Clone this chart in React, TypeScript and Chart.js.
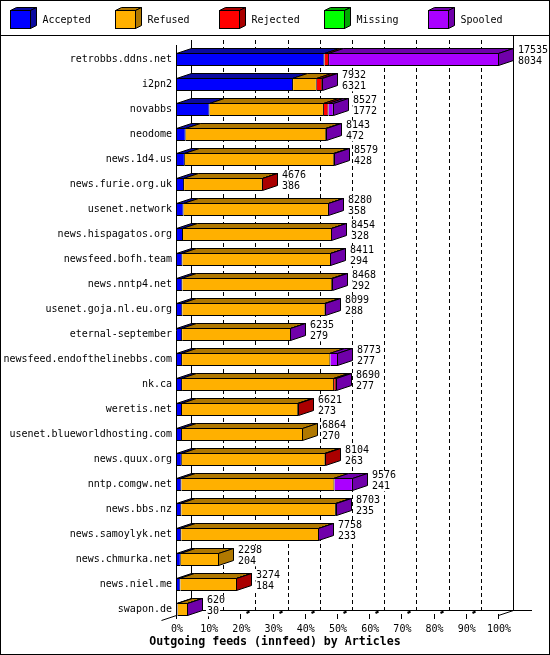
import React, { useEffect, useRef } from 'react';
import { Chart, registerables } from 'chart.js';

Chart.register(...registerables);

const HOSTS = [
  'retrobbs.ddns.net', 'i2pn2', 'novabbs', 'neodome', 'news.1d4.us', 'news.furie.org.uk',
  'usenet.network', 'news.hispagatos.org', 'newsfeed.bofh.team', 'news.nntp4.net',
  'usenet.goja.nl.eu.org', 'eternal-september', 'newsfeed.endofthelinebbs.com', 'nk.ca',
  'weretis.net', 'usenet.blueworldhosting.com', 'news.quux.org', 'nntp.comgw.net',
  'news.bbs.nz', 'news.samoylyk.net', 'news.chmurka.net', 'news.niel.me', 'swapon.de',
];
const ACCEPTED = [8034, 6321, 1772, 472, 428, 386, 358, 328, 294, 292, 288, 279, 277, 277, 273, 270, 263, 241, 235, 233, 204, 184, 30];
const REFUSED = [0, 1290, 6230, 7656, 8136, 4280, 7907, 8111, 8102, 8161, 7796, 5941, 8076, 8278, 6328, 6594, 7821, 8335, 8418, 7510, 2094, 3080, 575];
const REJECTED = [250, 300, 250, 0, 0, 10, 0, 0, 0, 0, 0, 0, 0, 120, 20, 0, 20, 0, 0, 0, 0, 10, 0];
const MISSING = [0, 0, 0, 0, 0, 0, 0, 0, 0, 0, 0, 0, 0, 0, 0, 0, 0, 0, 0, 0, 0, 0, 0];
const SPOOLED = [9251, 21, 275, 15, 15, 0, 15, 15, 15, 15, 15, 15, 420, 15, 0, 0, 0, 1000, 50, 15, 0, 0, 15];

const SERIES_NAMES = ['Accepted', 'Refused', 'Rejected', 'Missing', 'Spooled'];
const FRONT_COLORS = ['#0000ff', '#ffb000', '#ff0000', '#00ff00', '#aa00ff'];
const SIDE_COLORS = ['#0a0aa0', '#b07800', '#aa0000', '#00a800', '#7000aa'];
const X_TICK_STEP = 10;
const X_TITLE = 'Outgoing feeds (innfeed) by Articles';

const SERIES = [ACCEPTED, REFUSED, REJECTED, MISSING, SPOOLED];
const TOTALS = HOSTS.map((_, i) => SERIES.reduce((s, arr) => s + arr[i], 0));
const MAX_TOTAL = Math.max(...TOTALS);

const MONO = '"DejaVu Sans Mono", "Liberation Mono", monospace';
const DX = 15;
const DY = 5;

const threeD = {
  id: 'threeD',
  beforeDraw(chart: any) {
    const { ctx, width, height } = chart;
    ctx.save();
    ctx.fillStyle = '#ffffff';
    ctx.fillRect(0, 0, width, height);
    ctx.restore();
  },
  beforeDatasetsDraw(chart: any) {
    const { ctx, chartArea } = chart;
    const xs = chart.scales.x;
    const L = chartArea.left, R = chartArea.right, T = chartArea.top;
    const F = chartArea.bottom - 7;
    ctx.save();
    ctx.strokeStyle = '#000';
    ctx.lineWidth = 1;
    const line = (x1: number, y1: number, x2: number, y2: number) => {
      ctx.beginPath(); ctx.moveTo(x1, y1); ctx.lineTo(x2, y2); ctx.stroke();
    };
    // back wall left / right, back floor
    line(L + DX - 0.5, T - 7, L + DX - 0.5, F - 4.5);
    line(R + DX - 0.5, 35.5, R + DX - 0.5, F - 4.5);
    line(L + DX - 0.5, F - 4.5, R + DX + 18, F - 4.5);
    // back dashed gridlines
    ctx.setLineDash([4, 3]);
    for (let v = X_TICK_STEP; v < 100; v += X_TICK_STEP) {
      const bx = Math.round(xs.getPixelForValue(v)) + DX - 0.5;
      line(bx, T - 7, bx, F - 5);
    }
    ctx.setLineDash([]);
    // floor diagonals
    line(L - 0.5, F + 0.5, L - DX - 0.5, F + DY + 0.5);
    line(R - 0.5, F + 0.5, R + DX - 0.5, F - DY + 0.5);
    // ticks
    for (let v = 0; v <= 100; v += X_TICK_STEP) {
      const fx = Math.round(xs.getPixelForValue(v)) - 0.5;
      line(fx, F - 1, fx, F + 4);
      if (v < 100 && v > 0) {
        ctx.lineWidth = 2;
        line(fx + 6, F - 2, fx + 9, F - 3.5);
        ctx.lineWidth = 1;
      }
    }
    ctx.restore();
  },
  afterDatasetsDraw(chart: any) {
    const { ctx, chartArea } = chart;
    const datasets = chart.data.datasets;
    const metas = datasets.map((_: any, d: number) => chart.getDatasetMeta(d));
    ctx.save();
    ctx.lineWidth = 1;
    ctx.strokeStyle = '#000';
    for (let i = 0; i < HOSTS.length; i++) {
      let last = -1;
      for (let d = 0; d < datasets.length; d++) if (datasets[d].data[i] > 0) last = d;
      for (let d = 0; d < datasets.length; d++) {
        if (!(datasets[d].data[i] > 0)) continue;
        const p = metas[d].data[i].getProps(['x', 'y', 'base', 'height'], true);
        const x0 = Math.round(Math.min(p.base, p.x)) - 0.5;
        const x1 = Math.round(Math.max(p.base, p.x)) - 0.5;
        const top = Math.round(p.y - p.height / 2) + 0.5;
        const bot = Math.round(p.y + p.height / 2) - 0.5;
        ctx.fillStyle = SIDE_COLORS[d];
        ctx.beginPath();
        ctx.moveTo(x0, top); ctx.lineTo(x1, top); ctx.lineTo(x1 + DX, top - DY); ctx.lineTo(x0 + DX, top - DY);
        ctx.closePath(); ctx.fill(); ctx.stroke();
        if (d === last) {
          ctx.beginPath();
          ctx.moveTo(x1, top); ctx.lineTo(x1 + DX, top - DY); ctx.lineTo(x1 + DX, bot - DY); ctx.lineTo(x1, bot);
          ctx.closePath(); ctx.fill(); ctx.stroke();
        }
      }
    }
    // left front axis
    ctx.beginPath();
    ctx.moveTo(chartArea.left - 0.5, chartArea.top - 2);
    ctx.lineTo(chartArea.left - 0.5, chartArea.bottom - 6.5);
    ctx.stroke();
    // value labels
    ctx.font = `10px ${MONO}`;
    ctx.textBaseline = 'middle';
    ctx.textAlign = 'left';
    const lastMeta = metas[metas.length - 1];
    for (let i = 0; i < HOSTS.length; i++) {
      const p = lastMeta.data[i].getProps(['x', 'y', 'height'], true);
      const lx = Math.round(p.x) + DX + 4;
      const top = Math.round(p.y - p.height / 2);
      const lines = [String(TOTALS[i]), String(ACCEPTED[i])];
      const ys = [top - 2.5, top + 8.3];
      lines.forEach((t, k) => {
        const w = ctx.measureText(t).width;
        ctx.fillStyle = '#fff';
        ctx.fillRect(lx - 1, ys[k] - 5, w + 2, 10);
        ctx.fillStyle = '#000';
        ctx.fillText(t, lx, ys[k]);
      });
    }
    ctx.restore();
  },
  afterDraw(chart: any) {
    const { ctx, width, height } = chart;
    ctx.save();
    ctx.strokeStyle = '#000';
    ctx.lineWidth = 1;
    // legend
    const datasets = chart.data.datasets;
    ctx.font = `10px ${MONO}`;
    ctx.textBaseline = 'middle';
    ctx.textAlign = 'left';
    datasets.forEach((ds: any, d: number) => {
      const x = Math.round(10 + d * 104.5) + 0.5;
      const y = 10.5;
      const w = 20, h = 18, dx = 6, dy = 3;
      ctx.fillStyle = SIDE_COLORS[d];
      ctx.beginPath();
      ctx.moveTo(x, y); ctx.lineTo(x + w, y); ctx.lineTo(x + w + dx, y - dy); ctx.lineTo(x + dx, y - dy);
      ctx.closePath(); ctx.fill(); ctx.stroke();
      ctx.beginPath();
      ctx.moveTo(x + w, y); ctx.lineTo(x + w + dx, y - dy); ctx.lineTo(x + w + dx, y + h - dy); ctx.lineTo(x + w, y + h);
      ctx.closePath(); ctx.fill(); ctx.stroke();
      ctx.fillStyle = FRONT_COLORS[d];
      ctx.fillRect(x, y, w, h);
      ctx.strokeRect(x, y, w, h);
      ctx.fillStyle = '#000';
      ctx.fillText(ds.label, x + 32, 20);
    });
    // legend separator
    ctx.beginPath(); ctx.moveTo(0, 35.5); ctx.lineTo(width, 35.5); ctx.stroke();
    // title
    ctx.font = `bold 11.6px ${MONO}`;
    ctx.textAlign = 'center';
    ctx.fillStyle = '#000';
    ctx.fillText(X_TITLE, width / 2, 642);
    // frame
    ctx.strokeRect(0.5, 0.5, width - 1, height - 1);
    ctx.restore();
  },
};

export default function App() {
  const ref = useRef<HTMLCanvasElement>(null);
  useEffect(() => {
    document.body.style.margin = '0';
    const chart = new Chart(ref.current as HTMLCanvasElement, {
      type: 'bar',
      data: {
        labels: HOSTS,
        datasets: SERIES.map((arr, d) => ({
          label: SERIES_NAMES[d],
          data: arr.map((v) => (v / MAX_TOTAL) * 100),
          backgroundColor: FRONT_COLORS[d],
          borderColor: '#000',
          borderWidth: 1,
          borderSkipped: 'start',
          inflateAmount: 0,
          barThickness: 13,
        })),
      },
      options: {
        indexAxis: 'y',
        responsive: false,
        animation: false,
        devicePixelRatio: 1,
        layout: { padding: { top: 47, right: 51, bottom: 0, left: 0 } },
        plugins: { legend: { display: false }, tooltip: { enabled: false } },
        scales: {
          x: {
            type: 'linear',
            stacked: true,
            min: 0,
            max: 100,
            grid: { display: false, drawTicks: false },
            border: { display: false },
            ticks: {
              stepSize: X_TICK_STEP,
              autoSkip: false,
              maxRotation: 0,
              padding: 1,
              color: '#000',
              font: { family: MONO, size: 10 },
              callback: (v: any) => `${v}%`,
            },
            afterFit: (s: any) => { s.height = 33; },
          },
          y: {
            stacked: true,
            grid: { display: false, drawTicks: false },
            border: { display: false },
            ticks: {
              autoSkip: false,
              padding: 5,
              color: '#000',
              font: { family: MONO, size: 10 },
            },
            afterFit: (s: any) => { s.width = 177; },
          },
        },
      },
      plugins: [threeD],
    } as any);
    return () => chart.destroy();
  }, []);
  return (
    <canvas ref={ref} width={550} height={655} style={{ display: 'block', width: 550, height: 655 }} />
  );
}
